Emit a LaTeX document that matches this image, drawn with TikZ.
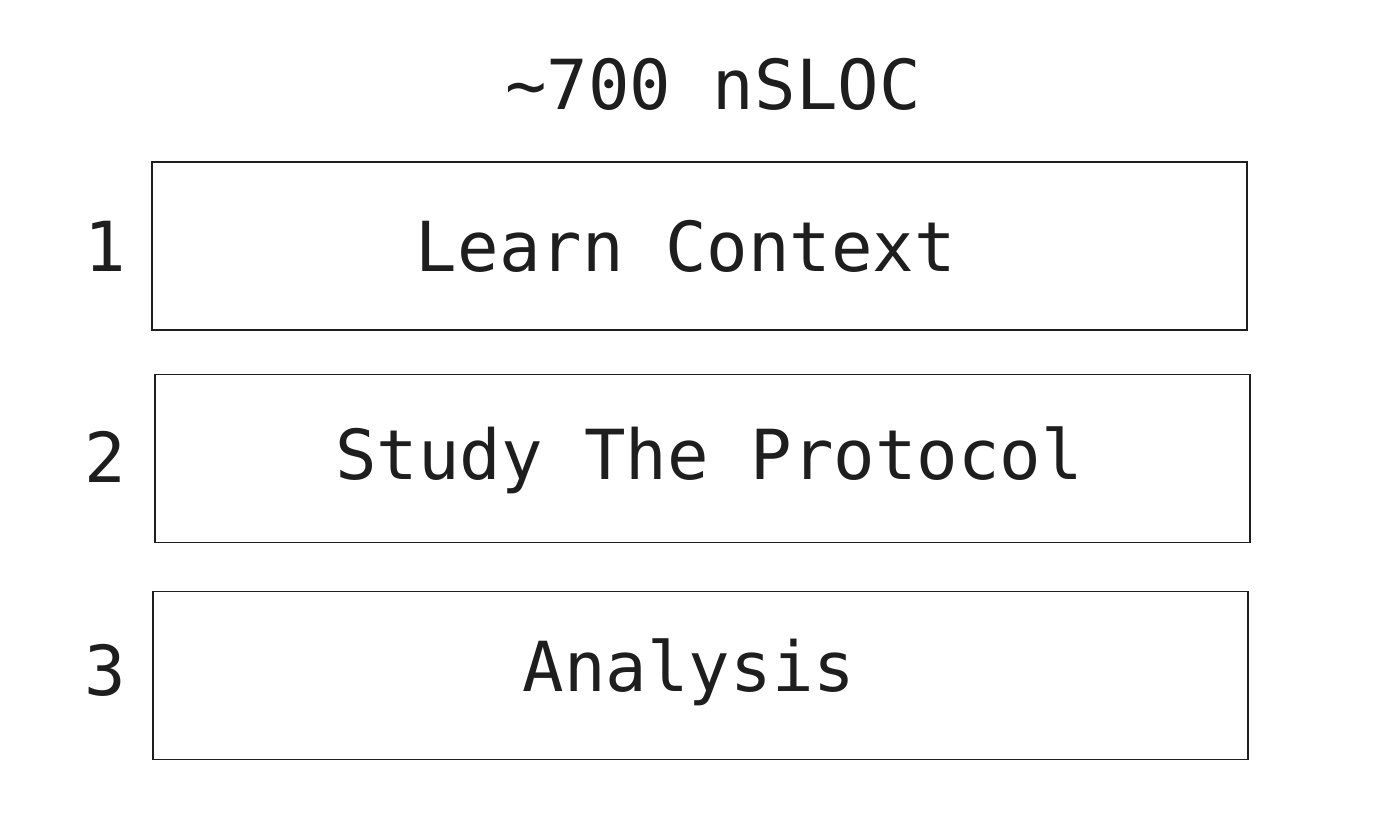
\documentclass[tikz,border=0pt]{standalone}
\usepackage{fontspec}
\setmonofont{DejaVu Sans Mono}
\definecolor{ink}{HTML}{1E1E1E}
\begin{document}
\begin{tikzpicture}[x=1pt,y=-1pt,
  stage/.style={draw=ink,line width=1.8pt,rectangle,inner sep=0pt,
    minimum width=1095pt,minimum height=168pt},
  label/.style={font=\ttfamily\fontsize{69}{69}\selectfont,text=ink,inner sep=0pt,anchor=center},
  num/.style={label}]
\useasboundingbox[fill=white] (0,0) rectangle (1398,826);
% heading
\node[label] (title) at (713,84) {\char`\~700 nSLOC};
% the three stages
\node[stage] (s1) at (699.5,246) {};
\node[stage] (s2) at (702.5,458.5) {};
\node[stage] (s3) at (700.5,675.5) {};
\node[label] (t1) at (686,246) {Learn Context};
\node[label] (t2) at (709,460) {Study The Protocol};
\node[label] (t3) at (689,672) {Analysis};
% step numbers
\node[num] (n1) at (105,246) {1};
\node[num] (n2) at (105,457) {2};
\node[num] (n3) at (105,670) {3};
\end{tikzpicture}
\end{document}
